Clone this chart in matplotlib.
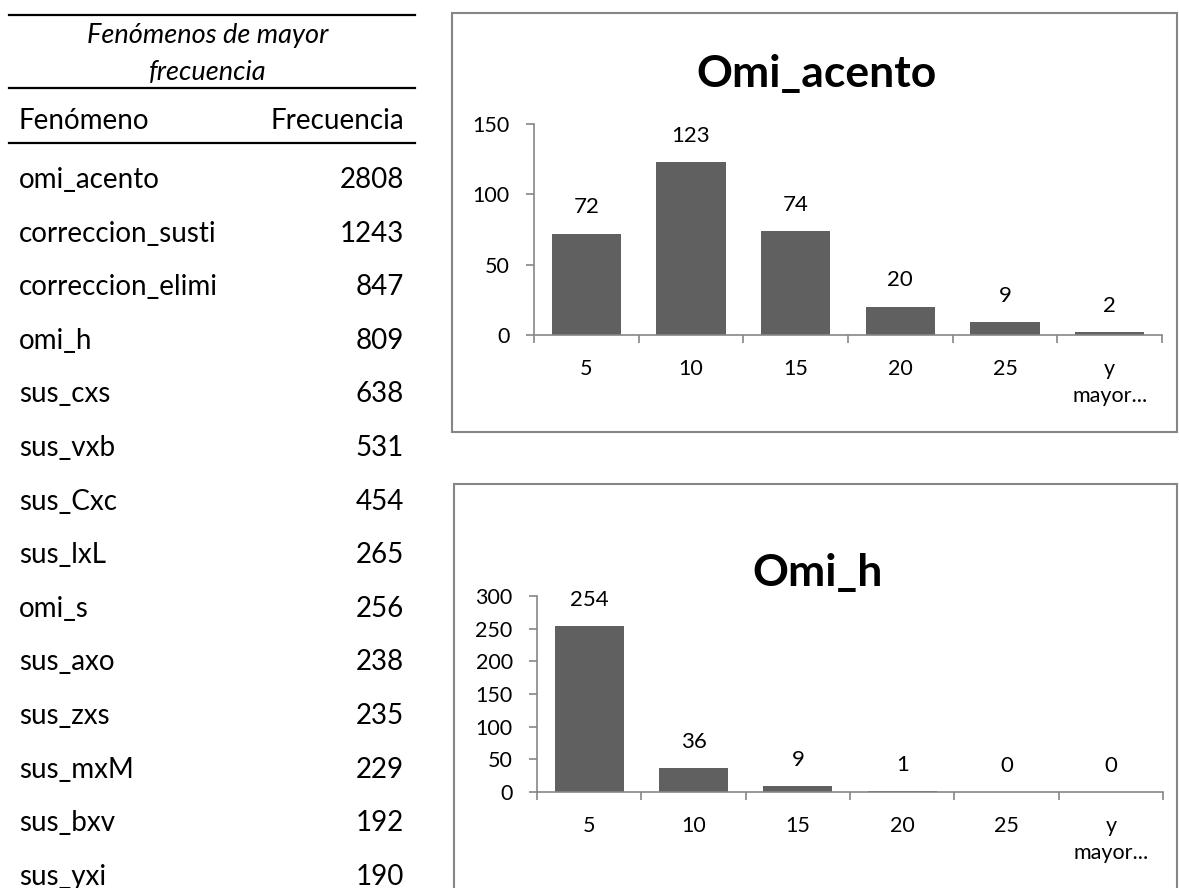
import matplotlib
matplotlib.use('Agg')
import matplotlib.pyplot as plt
from matplotlib.lines import Line2D
from matplotlib.patches import Rectangle

plt.rcParams['font.family'] = ['Lato', 'DejaVu Sans']

fenomenos = ['omi_acento', 'correccion_susti', 'correccion_elimi', 'omi_h',
             'sus_cxs', 'sus_vxb', 'sus_Cxc', 'sus_lxL', 'omi_s', 'sus_axo',
             'sus_zxs', 'sus_mxM', 'sus_bxv', 'sus_yxi']
frecuencias = [2808, 1243, 847, 809, 638, 531, 454, 265, 256, 238, 235, 229, 192, 190]

clases = ['5', '10', '15', '20', '25', 'y\nmayor...']
omi_acento = [72, 123, 74, 20, 9, 2]
omi_h = [254, 36, 9, 1, 0, 0]

W, H = 1179, 888
BAR = '#606060'
GRIS = '#868686'

fig = plt.figure(figsize=(W / 100, H / 100), dpi=100)


def px(x, y):
    return x / W, 1 - y / H


# tabla de la izquierda
def hline(y):
    x0, y0 = px(9, y)
    x1, _ = px(415, y)
    fig.add_artist(Line2D([x0, x1], [y0, y0], color='black', lw=1.6))


hline(15)
hline(88)
hline(143)
fig.text(*px(208, 36), 'Fenómenos de mayor', style='italic', fontsize=19.5,
         ha='center', va='center')
fig.text(*px(208, 72), 'frecuencia', style='italic', fontsize=19.5,
         ha='center', va='center')
fig.text(*px(19, 121), 'Fenómeno', fontsize=20, ha='left', va='center')
fig.text(*px(404, 121), 'Frecuencia', fontsize=20, ha='right', va='center')
for i, (nombre, frec) in enumerate(zip(fenomenos, frecuencias)):
    y = 180 + i * 53.6
    fig.text(*px(19, y), nombre, fontsize=20, ha='left', va='center')
    fig.text(*px(404, y), str(frec), fontsize=20, ha='right', va='center')


def histograma(box, area, valores, ymax, paso, titulo, titulo_y):
    bx0, by0, bx1, by1 = box
    fig.add_artist(Rectangle(px(bx0, by1), (bx1 - bx0) / W, (by1 - by0) / H,
                             fill=False, edgecolor=GRIS, lw=1.5))
    fig.text(*px((bx0 + bx1) / 2 + 2, titulo_y), titulo, fontsize=32,
             fontweight='bold', ha='center', va='center')

    left, right, y0, ytop = area
    ax = fig.add_axes([left / W, 1 - y0 / H, (right - left) / W, (y0 - ytop) / H])
    ax.patch.set_alpha(0)
    x = range(len(valores))
    ax.bar(x, valores, width=0.66, color=BAR)
    for xi, v in zip(x, valores):
        ax.annotate(str(v), (xi, v), xytext=(0, 19), textcoords='offset points',
                    ha='center', va='center', fontsize=16)
    ax.set_xlim(-0.5, len(valores) - 0.5)
    ax.set_ylim(0, ymax)
    ax.set_yticks(range(0, ymax + 1, paso))
    ax.set_xticks(list(x))
    ax.set_xticklabels(clases, fontsize=15.5, linespacing=1.45)
    ax.set_xticks([i - 0.5 for i in range(len(valores) + 1)], minor=True)
    ax.tick_params(axis='x', which='major', length=0, pad=17)
    ax.tick_params(axis='x', which='minor', length=6, color=GRIS, width=1.2)
    ax.tick_params(axis='y', length=5.5, color=GRIS, width=1.2, labelsize=15.5,
                   pad=12)
    for lado in ['top', 'right']:
        ax.spines[lado].set_visible(False)
    for lado in ['left', 'bottom']:
        ax.spines[lado].set_color(GRIS)
        ax.spines[lado].set_linewidth(1.2)
    return ax


histograma((452, 13, 1177, 432), (534, 1162, 335, 124), omi_acento, 150, 50,
           'Omi_acento', 74)
histograma((454, 484, 1177, 900), (537, 1163, 792, 596), omi_h, 300, 50,
           'Omi_h', 573)

fig.savefig('out.png', dpi=100)
